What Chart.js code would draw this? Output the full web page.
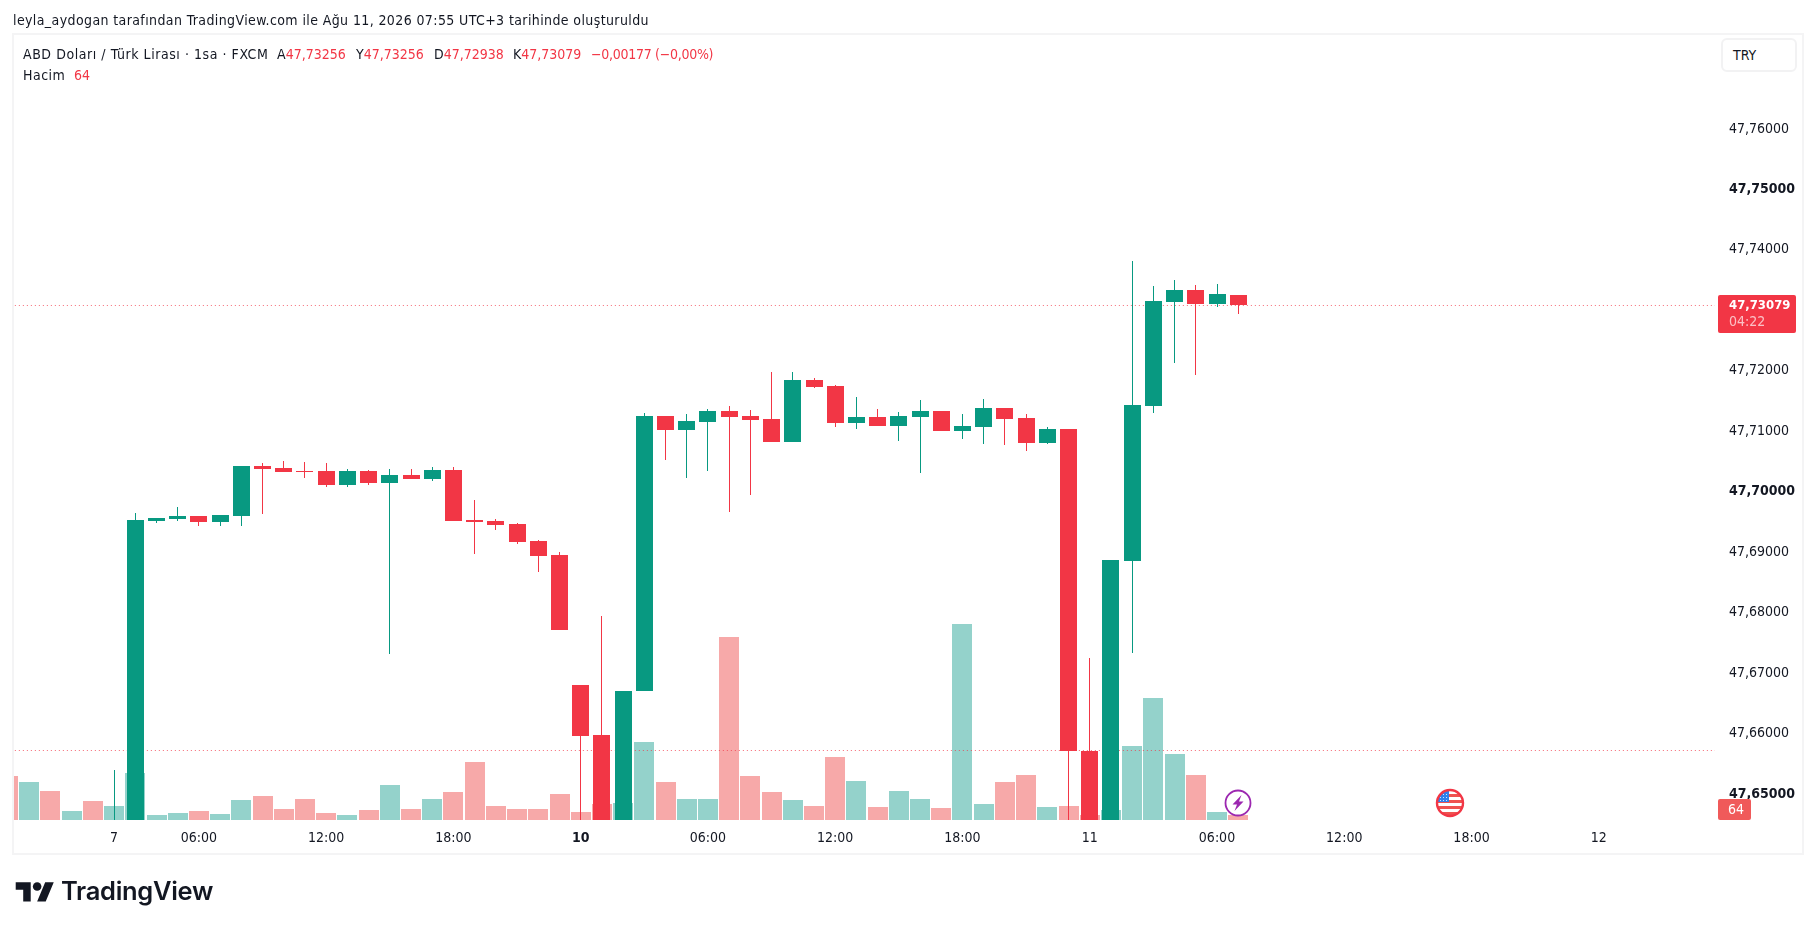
<!DOCTYPE html>
<html lang="tr"><head><meta charset="utf-8"><title>USDTRY</title>
<script src="https://cdn.jsdelivr.net/npm/chart.js@4"></script>
<style>
html,body{margin:0;padding:0;background:#fff;width:1815px;height:930px;overflow:hidden;font-family:"DejaVu Sans Condensed","DejaVu Sans",sans-serif;color:#131722}
#box{position:absolute;left:12px;top:33px;width:1788px;height:818px;border:2px solid #f4f4f5}
canvas{position:absolute;left:0;top:0}
.t{position:absolute;white-space:pre;font-size:14px;line-height:18px}
.s{letter-spacing:.48px}
.r{color:#f23645}
#try{position:absolute;left:1721px;top:38px;width:72px;height:30px;border:2px solid #f2f2f3;border-radius:6px;background:#fff}
#logo{position:absolute;left:15px;top:878px}
</style></head><body>
<div id="box"></div>
<canvas id="c" width="1815" height="930"></canvas>
<div class="t s" style="left:13px;top:11px;letter-spacing:.39px">leyla_aydogan tarafından TradingView.com ile Ağu 11, 2026 07:55 UTC+3 tarihinde oluşturuldu</div>
<div class="t s" style="left:23px;top:45px;letter-spacing:.55px">ABD Doları / Türk Lirası · 1sa · FXCM</div>
<div class="t" style="left:277px;top:45px">A<span class="r">47,73256</span></div>
<div class="t" style="left:356px;top:45px">Y<span class="r">47,73256</span></div>
<div class="t" style="left:434px;top:45px">D<span class="r">47,72938</span></div>
<div class="t" style="left:513px;top:45px">K<span class="r">47,73079</span></div>
<div class="t r" style="left:591px;top:45px;letter-spacing:-.28px">−0,00177 (−0,00%)</div>
<div class="t s" style="left:23px;top:66px">Hacim</div>
<div class="t r" style="left:74px;top:66px">64</div>
<div id="try"></div>
<div class="t" style="left:1733px;top:46px">TRY</div>
<svg id="logo" width="40" height="30" viewBox="0 0 36 28"><path fill="#131722" d="M14 22H7V11H0V4h14v18zM28 22h-8l7.5-18h8L28 22z"/><circle fill="#131722" cx="20" cy="8" r="4"/></svg>
<div style="position:absolute;left:61px;top:875px;font:600 25.5px/32px Inter,Roboto,sans-serif;color:#131722;letter-spacing:-.3px">TradingView</div>
<script>
const candleSlots=[0,1,2,3,4,5,6,7,8,9,10,11,12,13,14,15,16,17,18,19,20,21,22,23,24,25,26,27,28,29,30,31,32,33,34,35,36,37,38,39,40,41,42,43,44,45,46,47,48,49,50,51,52,53];
const opens=[47.63,47.64,47.6951,47.69543,47.69593,47.69494,47.69593,47.7042,47.70387,47.70337,47.70337,47.70106,47.70337,47.70139,47.70271,47.70205,47.70354,47.69527,47.6951,47.69461,47.69179,47.68948,47.66797,47.6597,47.64,47.66703,47.71247,47.71016,47.71148,47.7133,47.71247,47.71198,47.70817,47.71843,47.71744,47.71132,47.71231,47.71082,47.71231,47.7133,47.70999,47.71065,47.7138,47.71214,47.70801,47.71032,47.65717,47.64,47.68849,47.71413,47.73133,47.73332,47.731,47.73256];
const highs=[47.6539,47.69643,47.6956,47.69742,47.69593,47.6961,47.7042,47.7047,47.70503,47.70486,47.7047,47.70371,47.70354,47.70371,47.70371,47.70404,47.70404,47.69858,47.69543,47.69477,47.69196,47.68997,47.66797,47.67939,47.66706,47.71297,47.71247,47.7128,47.71363,47.71413,47.71347,47.71975,47.71975,47.71876,47.7176,47.71562,47.71363,47.71314,47.71512,47.7133,47.7128,47.71529,47.7138,47.7128,47.71065,47.71032,47.67244,47.68865,47.73811,47.73398,47.73497,47.73414,47.73431,47.73256];
const lows=[47.62,47.64,47.69477,47.6951,47.69428,47.69428,47.69428,47.69626,47.70321,47.70222,47.70073,47.70073,47.70106,47.6731,47.70205,47.70172,47.6951,47.68964,47.69361,47.6913,47.68667,47.67707,47.644,47.64,47.64,47.66703,47.70519,47.70222,47.70338,47.69659,47.69941,47.70817,47.70817,47.71711,47.71065,47.71032,47.71082,47.70834,47.70304,47.70999,47.70867,47.70784,47.70768,47.70668,47.70784,47.644,47.64,47.64,47.67327,47.71297,47.72124,47.71926,47.7305,47.72938];
const closes=[47.64,47.69527,47.6956,47.69593,47.69494,47.6961,47.7042,47.70371,47.70321,47.70321,47.70106,47.70337,47.70139,47.70271,47.70205,47.70354,47.6951,47.69494,47.69444,47.69163,47.68931,47.67707,47.65954,47.64,47.66706,47.71247,47.71016,47.71165,47.7133,47.71231,47.71181,47.70817,47.71843,47.71727,47.71132,47.71231,47.71082,47.71247,47.7133,47.70999,47.71082,47.7138,47.71198,47.70801,47.71032,47.65706,47.64,47.68865,47.71429,47.7315,47.73332,47.731,47.73266,47.73079];
const volumeSlots=[-5,-4,-3,-2,-1,0,1,2,3,4,5,6,7,8,9,10,11,12,13,14,15,16,17,18,19,20,21,22,23,24,25,26,27,28,29,30,31,32,33,34,35,36,37,38,39,40,41,42,43,44,45,46,47,48,49,50,51,52,53];
const volumes=[528,456,348,108,228,168,564,60,84,108,72,240,288,132,252,84,60,120,420,132,252,336,696,168,132,132,312,96,192,204,936,456,252,252,2196,528,336,240,168,756,468,156,348,252,144,2352,192,456,540,156,168,60,120,888,1464,792,540,96,64];
const volumeUp=[0,1,0,1,0,1,1,1,1,0,1,1,0,0,0,0,1,0,1,0,1,0,0,0,0,0,0,0,0,1,1,0,1,1,0,0,0,1,0,0,1,0,1,1,0,1,1,0,0,1,0,0,1,1,1,1,0,1,0];
const priceTicks=[47.65,47.66,47.67,47.68,47.69,47.7,47.71,47.72,47.73,47.74,47.75,47.76];
const boldPrices=[47.65,47.7,47.75];
const timeSlots=[0,4,10,16,22,28,34,40,46,52,58,64,70];
const timeLabels=['7','06:00','12:00','18:00','10','06:00','12:00','18:00','11','06:00','12:00','18:00','12'];
const boldTimes=['10'];
const lastPrice=47.73079, prevPrice=47.657175, lastVolume=64, countdown='04:22';
const eventSlots={lightning:53,flag:63};

const UP='#089981',DOWN='#f23645',VUP='#94d2cb',VDOWN='#f7a9a9',TXT='#131722';
const FONT='"DejaVu Sans Condensed","DejaVu Sans",sans-serif', FS=14;
const fmt=v=>v.toFixed(5).replace('.',',');

const snap={id:'snap',beforeDatasetsDraw(chart){
  chart.data.datasets.forEach((d,i)=>{
    if(d.type==='line')return;
    const w=d.barThickness;
    chart.getDatasetMeta(i).data.forEach(el=>{
      el.x=(w%2===1)?Math.floor(el.x)+.5:Math.round(el.x);
      el.y=Math.round(el.y);el.base=Math.round(el.base);
    });
  });
}};
const overlay={id:'overlay',afterDraw(chart){
  const g=chart.ctx,y=chart.scales.y,v=chart.scales.v,x=chart.scales.x;
  g.save();
  const py=y.getPixelForValue(lastPrice);
  g.fillStyle=DOWN;g.beginPath();g.roundRect(1718,py-10.5,78,38,2);g.fill();
  g.textBaseline='middle';g.textAlign='left';
  g.fillStyle='#fff';g.font='bold 13px '+FONT;g.fillText(fmt(lastPrice),1729,py);
  g.fillStyle='#fbc0c5';g.font=FS+'px '+FONT;g.fillText(countdown,1729,py+17);
  const vb=v.getPixelForValue(0);
  g.fillStyle='#f05a5a';g.beginPath();g.roundRect(1718,vb-21,33,21,2);g.fill();
  g.fillStyle='#fff';g.font=FS+'px '+FONT;g.textAlign='center';g.fillText(String(lastVolume),1736,vb-10);
  const ey=vb-17;
  let cx=Math.round(x.getPixelForValue(eventSlots.lightning));
  g.fillStyle='#fff';g.strokeStyle='#9c27b0';g.lineWidth=1.8;
  g.beginPath();g.arc(cx,ey,12.5,0,7);g.fill();g.stroke();
  g.fillStyle='#9c27b0';g.beginPath();
  [[3.5,-8],[-5.5,1.5],[-1,1.5],[-3.5,8],[5.5,-1.5],[1,-1.5]].forEach((p,i)=>i?g.lineTo(cx+p[0],ey+p[1]):g.moveTo(cx+p[0],ey+p[1]));
  g.closePath();g.fill();
  cx=Math.round(x.getPixelForValue(eventSlots.flag));
  g.save();g.beginPath();g.arc(cx,ey,12.5,0,7);g.clip();
  g.fillStyle='#fff';g.fillRect(cx-14,ey-14,28,28);
  g.fillStyle='#ef5350';[-9,-3,3,9].forEach(d=>g.fillRect(cx-14,ey+d,28,3));
  g.fillStyle='#2f80ed';g.fillRect(cx-14,ey-14,13,13);
  g.fillStyle='#cfe3fb';for(let a=0;a<3;a++)for(let b=0;b<3;b++)g.fillRect(cx-10+a*3,ey-9+b*3,1,1);
  g.restore();
  g.strokeStyle=DOWN;g.lineWidth=2.4;g.beginPath();g.arc(cx,ey,13,0,7);g.stroke();
  g.restore();
}};

const color=i=>closes[i]>=opens[i]?UP:DOWN;
new Chart(document.getElementById('c'),{
  data:{datasets:[
    {type:'bar',label:'Hacim',order:5,yAxisID:'v',xAxisID:'x',grouped:false,barThickness:20,inflateAmount:0,
      backgroundColor:volumeUp.map(u=>u?VUP:VDOWN),
      data:volumeSlots.map((s,i)=>({x:s,y:volumes[i]}))},
    {type:'line',order:4,yAxisID:'y',xAxisID:'x',borderColor:'rgba(242,54,69,.75)',borderWidth:1,borderDash:[1,3],pointRadius:0,
      data:[{x:-6,y:prevPrice},{x:76,y:prevPrice}]},
    {type:'line',order:3,yAxisID:'y',xAxisID:'x',borderColor:'rgba(242,54,69,.75)',borderWidth:1,borderDash:[1,3],pointRadius:0,
      data:[{x:-6,y:lastPrice},{x:76,y:lastPrice}]},
    {type:'bar',label:'Fitil',order:2,yAxisID:'y',xAxisID:'x',grouped:false,barThickness:1,inflateAmount:0,
      backgroundColor:candleSlots.map((s,i)=>color(i)),
      data:candleSlots.map((s,i)=>({x:s,y:[lows[i],highs[i]]}))},
    {type:'bar',label:'Gövde',order:1,yAxisID:'y',xAxisID:'x',grouped:false,barThickness:17,inflateAmount:0,
      backgroundColor:candleSlots.map((s,i)=>color(i)),
      data:candleSlots.map((s,i)=>({x:s,y:[opens[i],closes[i]]}))}
  ]},
  options:{
    responsive:false,animation:false,devicePixelRatio:1,
    layout:{padding:{left:14,top:34,right:0,bottom:0}},
    plugins:{legend:{display:false},tooltip:{enabled:false}},
    scales:{
      x:{type:'linear',offset:false,min:-4.72,max:75.48,
        grid:{display:false},border:{display:false},
        afterBuildTicks(s){s.ticks=timeSlots.map(v=>({value:v}));},
        afterFit(s){s.height=110;},
        ticks:{autoSkip:false,maxRotation:0,padding:2,color:TXT,
          callback:v=>timeLabels[timeSlots.indexOf(v)],
          font:c=>({family:FONT,size:FS,weight:c.tick&&boldTimes.includes(timeLabels[timeSlots.indexOf(c.tick.value)])?'bold':'normal'})}},
      y:{type:'linear',position:'right',min:47.645678,max:47.775703,
        grid:{display:false},border:{display:false},
        afterBuildTicks(s){s.ticks=priceTicks.map(v=>({value:v}));},
        afterFit(s){s.width=100;},
        ticks:{autoSkip:false,padding:6,color:TXT,callback:v=>fmt(v),
          font:c=>({family:FONT,size:FS,weight:c.tick&&boldPrices.includes(c.tick.value)?'bold':'normal'})}},
      v:{type:'linear',display:false,min:0,max:9432}
    }
  },
  plugins:[snap,overlay]
});
</script></body></html>
